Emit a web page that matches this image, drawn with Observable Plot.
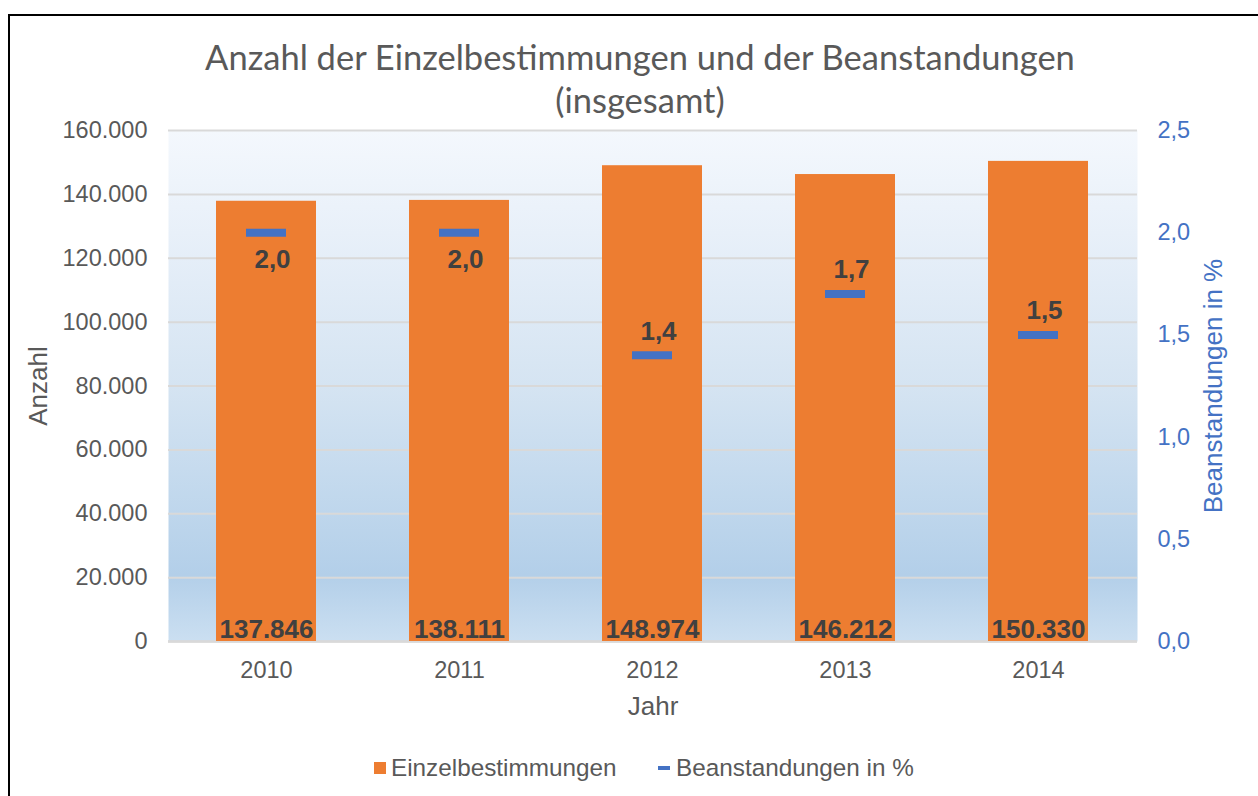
<!DOCTYPE html>
<html>
<head>
<meta charset="utf-8">
<script src="https://cdn.jsdelivr.net/npm/d3@7"></script>
<script src="https://cdn.jsdelivr.net/npm/@observablehq/plot@0.6"></script>
<style>
  html, body { margin: 0; padding: 0; background: #ffffff; overflow: hidden; }
  #wrap { position: relative; width: 1258px; height: 796px; }
  #border { position: absolute; left: 8px; top: 14px; width: 1400px; height: 900px;
            border-left: 2.5px solid #000; border-top: 2px solid #000; box-sizing: border-box; }
  #title { position: absolute; left: 90px; width: 1100px; top: 35px; text-align: center;
           font-family: Lato, "Open Sans", sans-serif; font-size: 34.5px; line-height: 43px; color: #595959; }
  #chart { position: absolute; left: 0; top: 0; }
  .leg { position: absolute; top: 753px; font-family: "Liberation Sans", Arial, sans-serif;
         font-size: 24.3px; line-height: 30px; color: #595959; white-space: nowrap; }
  .sw { position: absolute; }
</style>
</head>
<body>
<div id="wrap">
  <div id="border"></div>
  <div id="chart"></div>
  <div id="title">Anzahl der Einzelbestimmungen und der Beanstandungen<br>(insgesamt)</div>
  <div class="leg" style="left:374px"><span class="sw" style="left:0;top:9px;width:12px;height:12px;background:#ED7D31"></span><span style="margin-left:17px">Einzelbestimmungen</span></div>
  <div class="leg" style="left:658px"><span class="sw" style="left:0;top:13px;width:12px;height:4px;background:#4472C4"></span><span style="margin-left:18px">Beanstandungen in %</span></div>
</div>
<script>
// ---- data ----
const years = ["2010", "2011", "2012", "2013", "2014"];
const counts = [137846, 138111, 148974, 146212, 150330];
const percents = [2.0, 2.0, 1.4, 1.7, 1.5];
const countTicks = [0, 20000, 40000, 60000, 80000, 100000, 120000, 140000, 160000];
const percentTicks = [0, 0.5, 1.0, 1.5, 2.0, 2.5];

const yMax = 160000, pMax = 2.5;
const k = yMax / pMax; // map percent onto count scale (secondary axis)

const data = years.map((y, i) => ({year: y, count: counts[i], pct: percents[i]}));
const fmtCount = v => d3.format(",")(v).replace(/,/g, ".");
const fmtPct = v => v.toFixed(1).replace(".", ",");

const labelFont = {fontWeight: "bold", fontSize: 26, fill: "#404040", fontFamily: "'Liberation Sans', Arial, sans-serif"};

const chart = Plot.plot({
  width: 1258,
  height: 796,
  marginTop: 130,
  marginBottom: 155,
  marginLeft: 168,
  marginRight: 121,
  style: {fontFamily: "'Liberation Sans', Arial, sans-serif", fontSize: "23.5px", color: "#595959", background: "transparent", overflow: "visible"},
  x: {domain: years, paddingInner: 0.48, paddingOuter: 0.24},
  y: {domain: [0, yMax]},
  marks: [
    Plot.frame({fill: "url(#bgGrad)", stroke: null}),
    Plot.gridY(countTicks, {stroke: "#d9d9d9", strokeOpacity: 1, strokeWidth: 2}),
    Plot.ruleY([0], {stroke: "#d9d9d9", strokeWidth: 2.5}),
    Plot.barY(data, {x: "year", y: "count", fill: "#ED7D31"}),
    Plot.tickY(data, {x: "year", y: d => d.pct * k, stroke: "#4472C4", strokeWidth: 8, insetLeft: 30, insetRight: 30}),
    Plot.text(data, {x: "year", y: 0, text: d => fmtCount(d.count), lineAnchor: "bottom", dy: -4, ...labelFont}),
    Plot.text(data.filter(d => d.pct >= 2), {x: "year", y: d => d.pct * k, text: d => fmtPct(d.pct), dy: 27, dx: 6, ...labelFont}),
    Plot.text(data.filter(d => d.pct < 2), {x: "year", y: d => d.pct * k, text: d => fmtPct(d.pct), dy: -24, dx: 6, ...labelFont}),
    Plot.axisY(countTicks, {anchor: "left", tickSize: 0, tickPadding: 21, tickFormat: fmtCount, label: null, fill: "#595959", fontSize: 23.5}),
    Plot.axisY(percentTicks.map(v => v * k), {anchor: "right", tickSize: 0, tickPadding: 20, tickFormat: v => fmtPct(v / k), label: null, fill: "#4472C4", fontSize: 23.5}),
    Plot.axisX({tickSize: 0, tickPadding: 20, label: null, fill: "#595959", fontSize: 23.5}),
    Plot.text(["Anzahl"], {frameAnchor: "left", textAnchor: "middle", rotate: -90, dx: -130, fontSize: 26, fill: "#595959"}),
    Plot.text(["Beanstandungen in %"], {frameAnchor: "right", textAnchor: "middle", rotate: -90, dx: 76, fontSize: 26, fill: "#4472C4"}),
    Plot.text(["Jahr"], {frameAnchor: "bottom", dy: 73, fontSize: 26, fill: "#595959"})
  ]
});

// gradient background for the plot area
const svg = d3.select(chart);
const grad = svg.insert("defs", ":first-child").append("linearGradient")
  .attr("id", "bgGrad").attr("x1", 0).attr("y1", 0).attr("x2", 0).attr("y2", 1);
[[0, "#f4f8fd"], [0.25, "#e5eef8"], [0.5, "#d5e4f2"], [0.75, "#bed6ec"], [0.87, "#b3cfe9"], [1, "#cbdff1"]]
  .forEach(([o, c]) => grad.append("stop").attr("offset", o).attr("stop-color", c));

document.getElementById("chart").appendChild(chart);
</script>
</body>
</html>
